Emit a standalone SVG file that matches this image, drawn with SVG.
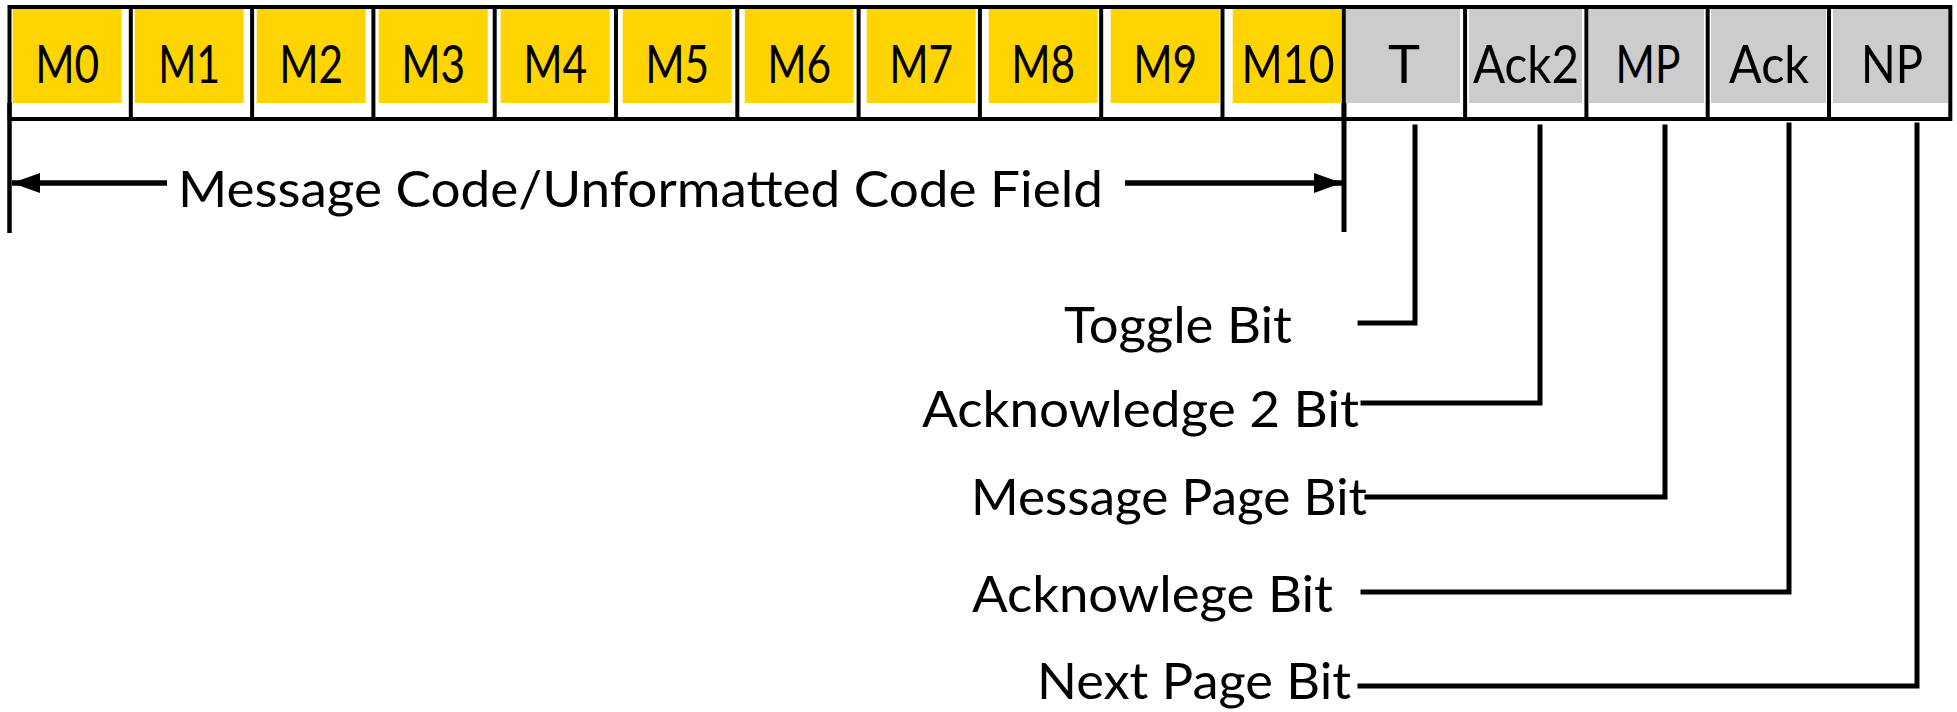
<svg xmlns="http://www.w3.org/2000/svg" width="1957" height="712" viewBox="0 0 1957 712">
  <defs>
    <style>
      .msg { fill: #FFD400; }
      .ctl { fill: #CCCCCC; }
      .cell-text { font-family: Lato, "Open Sans", "DejaVu Sans", sans-serif; font-size: 53px; fill: #000; text-anchor: middle; }
      .label { font-family: Lato, "Open Sans", "DejaVu Sans", sans-serif; font-size: 50px; fill: #000; }
      .frame { fill: none; stroke: #000; stroke-width: 4; }
      .div { stroke: #000; stroke-width: 4; }
      .wire { fill: none; stroke: #000; stroke-width: 5; stroke-linecap: square; }
      .dim { stroke: #000; stroke-width: 5.5; }
    </style>
    <marker id="head" viewBox="0 0 28 20" refX="28" refY="10" markerWidth="28" markerHeight="20" markerUnits="userSpaceOnUse" orient="auto-start-reverse">
      <path d="M0,0 L28,10 L0,20 Z" fill="#000"/>
    </marker>
  </defs>

  <!-- message code bits M0..M10 -->
  <g id="M0"><rect class="msg" x="12.7" y="9" width="109" height="94"/><text class="cell-text" x="67.2" y="83" textLength="64" lengthAdjust="spacingAndGlyphs">M0</text></g>
  <g id="M1"><rect class="msg" x="134.7" y="9" width="109" height="94"/><text class="cell-text" x="189.2" y="83" textLength="62" lengthAdjust="spacingAndGlyphs">M1</text></g>
  <g id="M2"><rect class="msg" x="256.7" y="9" width="109" height="94"/><text class="cell-text" x="311.2" y="83" textLength="64" lengthAdjust="spacingAndGlyphs">M2</text></g>
  <g id="M3"><rect class="msg" x="378.7" y="9" width="109" height="94"/><text class="cell-text" x="433.2" y="83" textLength="64" lengthAdjust="spacingAndGlyphs">M3</text></g>
  <g id="M4"><rect class="msg" x="500.7" y="9" width="109" height="94"/><text class="cell-text" x="555.2" y="83" textLength="64" lengthAdjust="spacingAndGlyphs">M4</text></g>
  <g id="M5"><rect class="msg" x="622.7" y="9" width="109" height="94"/><text class="cell-text" x="677.2" y="83" textLength="64" lengthAdjust="spacingAndGlyphs">M5</text></g>
  <g id="M6"><rect class="msg" x="744.7" y="9" width="109" height="94"/><text class="cell-text" x="799.2" y="83" textLength="64" lengthAdjust="spacingAndGlyphs">M6</text></g>
  <g id="M7"><rect class="msg" x="866.7" y="9" width="109" height="94"/><text class="cell-text" x="921.2" y="83" textLength="64" lengthAdjust="spacingAndGlyphs">M7</text></g>
  <g id="M8"><rect class="msg" x="988.7" y="9" width="109" height="94"/><text class="cell-text" x="1043.2" y="83" textLength="64" lengthAdjust="spacingAndGlyphs">M8</text></g>
  <g id="M9"><rect class="msg" x="1110.7" y="9" width="109" height="94"/><text class="cell-text" x="1165.2" y="83" textLength="64" lengthAdjust="spacingAndGlyphs">M9</text></g>
  <g id="M10"><rect class="msg" x="1232.7" y="9" width="109" height="94"/><text class="cell-text" x="1288" y="83" textLength="93" lengthAdjust="spacingAndGlyphs">M10</text></g>

  <!-- control bits -->
  <g id="T"><rect class="ctl" x="1346" y="9" width="114" height="94"/><text class="cell-text" x="1404" y="83" textLength="32" lengthAdjust="spacingAndGlyphs">T</text></g>
  <g id="Ack2"><rect class="ctl" x="1469" y="9" width="113" height="94"/><text class="cell-text" x="1526" y="83" textLength="106" lengthAdjust="spacingAndGlyphs">Ack2</text></g>
  <g id="MP"><rect class="ctl" x="1589" y="9" width="115" height="94"/><text class="cell-text" x="1648" y="83" textLength="65" lengthAdjust="spacingAndGlyphs">MP</text></g>
  <g id="Ack"><rect class="ctl" x="1711" y="9" width="115" height="94"/><text class="cell-text" x="1769" y="83" textLength="80" lengthAdjust="spacingAndGlyphs">Ack</text></g>
  <g id="NP"><rect class="ctl" x="1833" y="9" width="115" height="94"/><text class="cell-text" x="1892" y="83" textLength="62" lengthAdjust="spacingAndGlyphs">NP</text></g>

  <!-- register frame and bit dividers -->
  <g id="register-frame">
    <rect class="frame" x="9.5" y="7" width="1940.8" height="112"/>
    <line class="div" x1="130.8" y1="7" x2="130.8" y2="119"/>
    <line class="div" x1="252.1" y1="7" x2="252.1" y2="119"/>
    <line class="div" x1="373.4" y1="7" x2="373.4" y2="119"/>
    <line class="div" x1="494.7" y1="7" x2="494.7" y2="119"/>
    <line class="div" x1="616" y1="7" x2="616" y2="119"/>
    <line class="div" x1="737.3" y1="7" x2="737.3" y2="119"/>
    <line class="div" x1="858.6" y1="7" x2="858.6" y2="119"/>
    <line class="div" x1="979.9" y1="7" x2="979.9" y2="119"/>
    <line class="div" x1="1101.2" y1="7" x2="1101.2" y2="119"/>
    <line class="div" x1="1222.5" y1="7" x2="1222.5" y2="119"/>
    <line class="div" x1="1343.8" y1="7" x2="1343.8" y2="119"/>
    <line class="div" x1="1465.1" y1="7" x2="1465.1" y2="119"/>
    <line class="div" x1="1586.4" y1="7" x2="1586.4" y2="119"/>
    <line class="div" x1="1707.7" y1="7" x2="1707.7" y2="119"/>
    <line class="div" x1="1829" y1="7" x2="1829" y2="119"/>
  </g>

  <!-- field span dimension -->
  <g id="field-span">
    <line x1="9.5" y1="103" x2="9.5" y2="233" stroke="#000" stroke-width="4.5"/>
    <line x1="1344" y1="103" x2="1344" y2="232" stroke="#000" stroke-width="5"/>
    <line class="dim" x1="167" y1="183" x2="12" y2="183" marker-end="url(#head)"/>
    <line class="dim" x1="1125" y1="183" x2="1342" y2="183" marker-end="url(#head)"/>
    <text class="label" x="178" y="207" textLength="925" lengthAdjust="spacingAndGlyphs">Message Code/Unformatted Code Field</text>
  </g>

  <!-- bit labels -->
  <g id="toggle-bit"><text class="label" x="1064" y="343" textLength="228" lengthAdjust="spacingAndGlyphs">Toggle Bit</text></g>
  <g id="ack2-bit"><text class="label" x="922" y="427" textLength="437" lengthAdjust="spacingAndGlyphs">Acknowledge 2 Bit</text></g>
  <g id="mp-bit"><text class="label" x="971" y="515" textLength="396" lengthAdjust="spacingAndGlyphs">Message Page Bit</text></g>
  <g id="ack-bit"><text class="label" x="972" y="612" textLength="361" lengthAdjust="spacingAndGlyphs">Acknowlege Bit</text></g>
  <g id="np-bit"><text class="label" x="1037" y="699" textLength="314" lengthAdjust="spacingAndGlyphs">Next Page Bit</text></g>

  <!-- leader lines from each control bit to its label -->
  <g id="connectors">
    <polyline class="wire" points="1415,127 1415,323 1360,323"/>
    <polyline class="wire" points="1540,127 1540,403 1363,403"/>
    <polyline class="wire" points="1665,127 1665,497 1367,497"/>
    <polyline class="wire" points="1789,125 1789,592 1363,592"/>
    <polyline class="wire" points="1917,125 1917,686 1360,686"/>
  </g>
</svg>
